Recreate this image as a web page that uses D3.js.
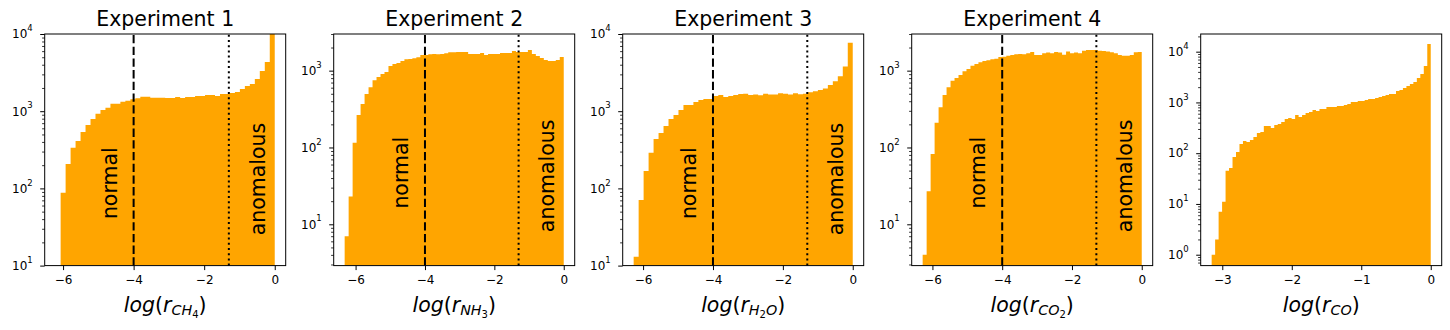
<!DOCTYPE html>
<html><head><meta charset="utf-8">
<script src="https://cdn.jsdelivr.net/npm/d3@7"></script>
<style>
body{margin:0;background:#fff}
svg{display:block;font-family:"DejaVu Sans",sans-serif}
</style>
</head><body>
<svg id="c" width="1450" height="330"></svg>
<script>
// ---------- data ----------
const titles = ["Experiment 1", "Experiment 2", "Experiment 3", "Experiment 4", ""];
const binStart = [-6.21, -6.315, -6.27, -6.28, -3.153];   // left edge of first bin (right edge is 0)
const counts1 = [6, 88, 207, 337, 411, 538, 663, 793, 929, 1037, 1110, 1250, 1250, 1327, 1368, 1426, 1469, 1542, 1542, 1496, 1496, 1496,
  1483, 1483, 1528, 1483, 1528, 1528, 1575, 1575, 1622, 1622, 1575, 1670, 1670, 1721, 1773, 1940, 2120, 2250, 2613, 3320, 4335, 11000];
const counts2 = [7, 23, 115, 265, 368, 497, 608, 750, 828, 906, 962, 1151, 1222, 1259, 1337, 1407, 1415, 1449, 1494, 1600, 1600, 1636,
  1650, 1636, 1650, 1686, 1738, 1738, 1750, 1750, 1750, 1648, 1648, 1648, 1700, 1600, 1648, 1648, 1648, 1700, 1700, 1700, 1803, 1750,
  1750, 1750, 1858, 1648, 1550, 1462, 1380, 1337, 1337, 1380, 1507];
const counts3 = [13, 71, 168, 290, 437, 522, 643, 792, 893, 1037, 1203, 1203, 1315, 1396, 1438, 1438, 1575, 1622, 1528, 1575, 1622, 1670,
  1680, 1620, 1640, 1610, 1680, 1640, 1640, 1710, 1680, 1640, 1710, 1660, 1680, 1760, 1810, 1880, 1970, 2180, 2440, 2840, 3780, 7700];
const counts4 = [4, 27, 82, 210, 333, 482, 607, 741, 803, 879, 980, 1052, 1162, 1221, 1283, 1336, 1363, 1405, 1432, 1506, 1520, 1567,
  1600, 1633, 1650, 1633, 1684, 1750, 1600, 1600, 1684, 1720, 1684, 1750, 1720, 1616, 1770, 1684, 1720, 1684, 1820, 1858, 1858, 1858,
  1820, 1800, 1770, 1735, 1684, 1600, 1567, 1567, 1600, 1735, 1750];
const counts5 = [1, 2, 7, 11, 45, 51, 84, 106, 152, 174, 166, 182, 209, 250, 263, 344, 344, 315, 360, 376, 412, 472, 494, 472, 565, 517,
  565, 620, 649, 710, 678, 743, 743, 813, 813, 813, 850, 850, 890, 930, 1020, 1020, 1065, 1065, 1115, 1170, 1170, 1220, 1280, 1340,
  1400, 1470, 1470, 1680, 1760, 1930, 2110, 2310, 2520, 3020, 3630, 5200, 14200];
const allCounts = [counts1, counts2, counts3, counts4, counts5];
const xTicksA = [-6, -4, -2, 0];
const xTicksB = [-3, -2, -1, 0];
const xTickSets = [xTicksA, xTicksA, xTicksA, xTicksA, xTicksB];
const yRanges = [[10, 1e4], [2.9, 3000], [10, 1e4], [2.9, 3000], [0.61, 22300]];
const normalCut = -4;
const anomalousCut = -1.301;
const hasCuts = [true, true, true, true, false];
// x-label subscripts: [text, level]
const species = [
  [["CH", 1], ["4", 2]],
  [["NH", 1], ["3", 2]],
  [["H", 1], ["2", 2], ["O", 1]],
  [["CO", 1], ["2", 2]],
  [["CO", 1]]
];
const normalText = "normal", anomalousText = "anomalous";
const normalAt = [[-4.48, 40], [-4.48, 16], [-4.48, 40], [-4.48, 16]];
const anomalousAt = [[-0.27, 24.7], [-0.27, 7.9], [-0.27, 24.7], [-0.27, 7.9]];

// ---------- layout ----------
const svg = d3.select("#c");
const TOP = 34, PH = 231.6, PW = 241;
const ORANGE = "#FFA500";
const fmtX = d => d < 0 ? "\u2212" + Math.abs(d) : String(d);
const subSize = [20.5, 14.3, 10], subOff = [0, 3.4, 6.7];

for (let p = 0; p < 5; p++) {
  const left = 44.7 + 289 * p;
  const counts = allCounts[p];
  const n = counts.length;
  const x0 = binStart[p], x1 = 0, span = x1 - x0, bw = span / n;
  const [ymin, ymax] = yRanges[p];
  const x = d3.scaleLinear().domain([x0 - 0.05 * span, x1 + 0.05 * span]).range([0, PW]);
  const y = d3.scaleLog().domain(yRanges[p]).range([PH, 0]);
  const g = svg.append("g").attr("transform", `translate(${left},${TOP})`);

  g.append("clipPath").attr("id", "clip" + p).append("rect").attr("width", PW).attr("height", PH);

  // histogram as one step-shaped area (no seams between adjacent bars)
  const clampV = c => Math.min(Math.max(c, ymin), ymax * 1.5);
  const pts = [[x0, ymin]];
  counts.forEach((c, i) => {
    pts.push([x0 + i * bw, clampV(c)]);
    pts.push([x0 + (i + 1) * bw, clampV(c)]);
  });
  pts.push([x1, ymin]);
  const line = d3.line().x(d => x(d[0])).y(d => y(d[1]));
  g.append("path").attr("clip-path", `url(#clip${p})`)
    .attr("d", line(pts) + "Z").attr("fill", ORANGE).attr("stroke", "none");

  if (hasCuts[p]) {
    g.append("line").attr("x1", x(normalCut)).attr("x2", x(normalCut)).attr("y1", PH).attr("y2", 0)
      .attr("stroke", "#000").attr("stroke-width", 2).attr("stroke-dasharray", "8.3,3.4");
    g.append("line").attr("x1", x(anomalousCut)).attr("x2", x(anomalousCut)).attr("y1", PH).attr("y2", 0)
      .attr("stroke", "#000").attr("stroke-width", 2).attr("stroke-dasharray", "2,3.2");
    g.append("text").attr("transform", `translate(${x(normalAt[p][0])},${y(normalAt[p][1])}) rotate(-90)`)
      .attr("font-size", 20.5).attr("fill", "#000").text(normalText);
    g.append("text").attr("transform", `translate(${x(anomalousAt[p][0])},${y(anomalousAt[p][1])}) rotate(-90)`)
      .attr("font-size", 20.5).attr("fill", "#000").text(anomalousText);
  }

  // x axis
  const xa = g.append("g").attr("transform", `translate(0,${PH})`)
    .call(d3.axisBottom(x).tickValues(xTickSets[p]).tickSize(4.5).tickPadding(5.5).tickFormat(fmtX));
  xa.select(".domain").remove();
  xa.selectAll("text").attr("font-size", 12).attr("font-family", "DejaVu Sans").attr("fill", "#000");
  xa.selectAll("line").attr("stroke", "#000");

  // y axis: minor and major ticks
  const majors = [], minors = [];
  for (let e = Math.floor(Math.log10(ymin)); e <= Math.ceil(Math.log10(ymax)); e++) {
    for (let k = 1; k <= 9; k++) {
      const v = k * Math.pow(10, e);
      if (v < ymin * 0.999 || v > ymax * 1.001) continue;
      (k === 1 ? majors : minors).push(v);
    }
  }
  const ymi = g.append("g").call(d3.axisLeft(y).tickValues(minors).tickSize(2.6).tickFormat(""));
  ymi.select(".domain").remove();
  ymi.selectAll("line").attr("stroke", "#000").attr("stroke-width", 0.8);
  const yma = g.append("g").call(d3.axisLeft(y).tickValues(majors).tickSize(4.5).tickFormat(""));
  yma.select(".domain").remove();
  yma.selectAll("line").attr("stroke", "#000");
  majors.forEach(v => {
    const t = g.append("text").attr("x", -12).attr("y", y(v) + 4.3)
      .attr("text-anchor", "end").attr("font-size", 12).attr("fill", "#000");
    t.append("tspan").text("10");
    t.append("tspan").attr("font-size", 8.5).attr("dy", -7.2).text(String(Math.round(Math.log10(v))));
  });

  // frame
  g.append("rect").attr("width", PW).attr("height", PH).attr("fill", "none")
    .attr("stroke", "#000").attr("stroke-width", 1);

  // title
  if (titles[p]) {
    g.append("text").attr("x", PW / 2).attr("y", 26 - TOP).attr("text-anchor", "middle")
      .attr("font-size", 20.5).attr("fill", "#000").text(titles[p]);
  }

  // x label: log(r_{species})
  const lab = g.append("text").attr("x", PW / 2).attr("y", 311.7 - TOP).attr("text-anchor", "middle")
    .attr("font-size", 20.5).attr("fill", "#000");
  lab.append("tspan").attr("font-style", "italic").text("log");
  lab.append("tspan").text("(");
  lab.append("tspan").attr("font-style", "italic").text("r");
  let lvl = 0;
  species[p].forEach(([s, l]) => {
    lab.append("tspan").attr("font-size", subSize[l]).attr("dy", subOff[l] - subOff[lvl])
      .attr("font-style", /\d/.test(s) ? "normal" : "italic").text(s);
    lvl = l;
  });
  lab.append("tspan").attr("font-size", subSize[0]).attr("dy", subOff[0] - subOff[lvl]).text(")");
}
</script>
</body></html>
